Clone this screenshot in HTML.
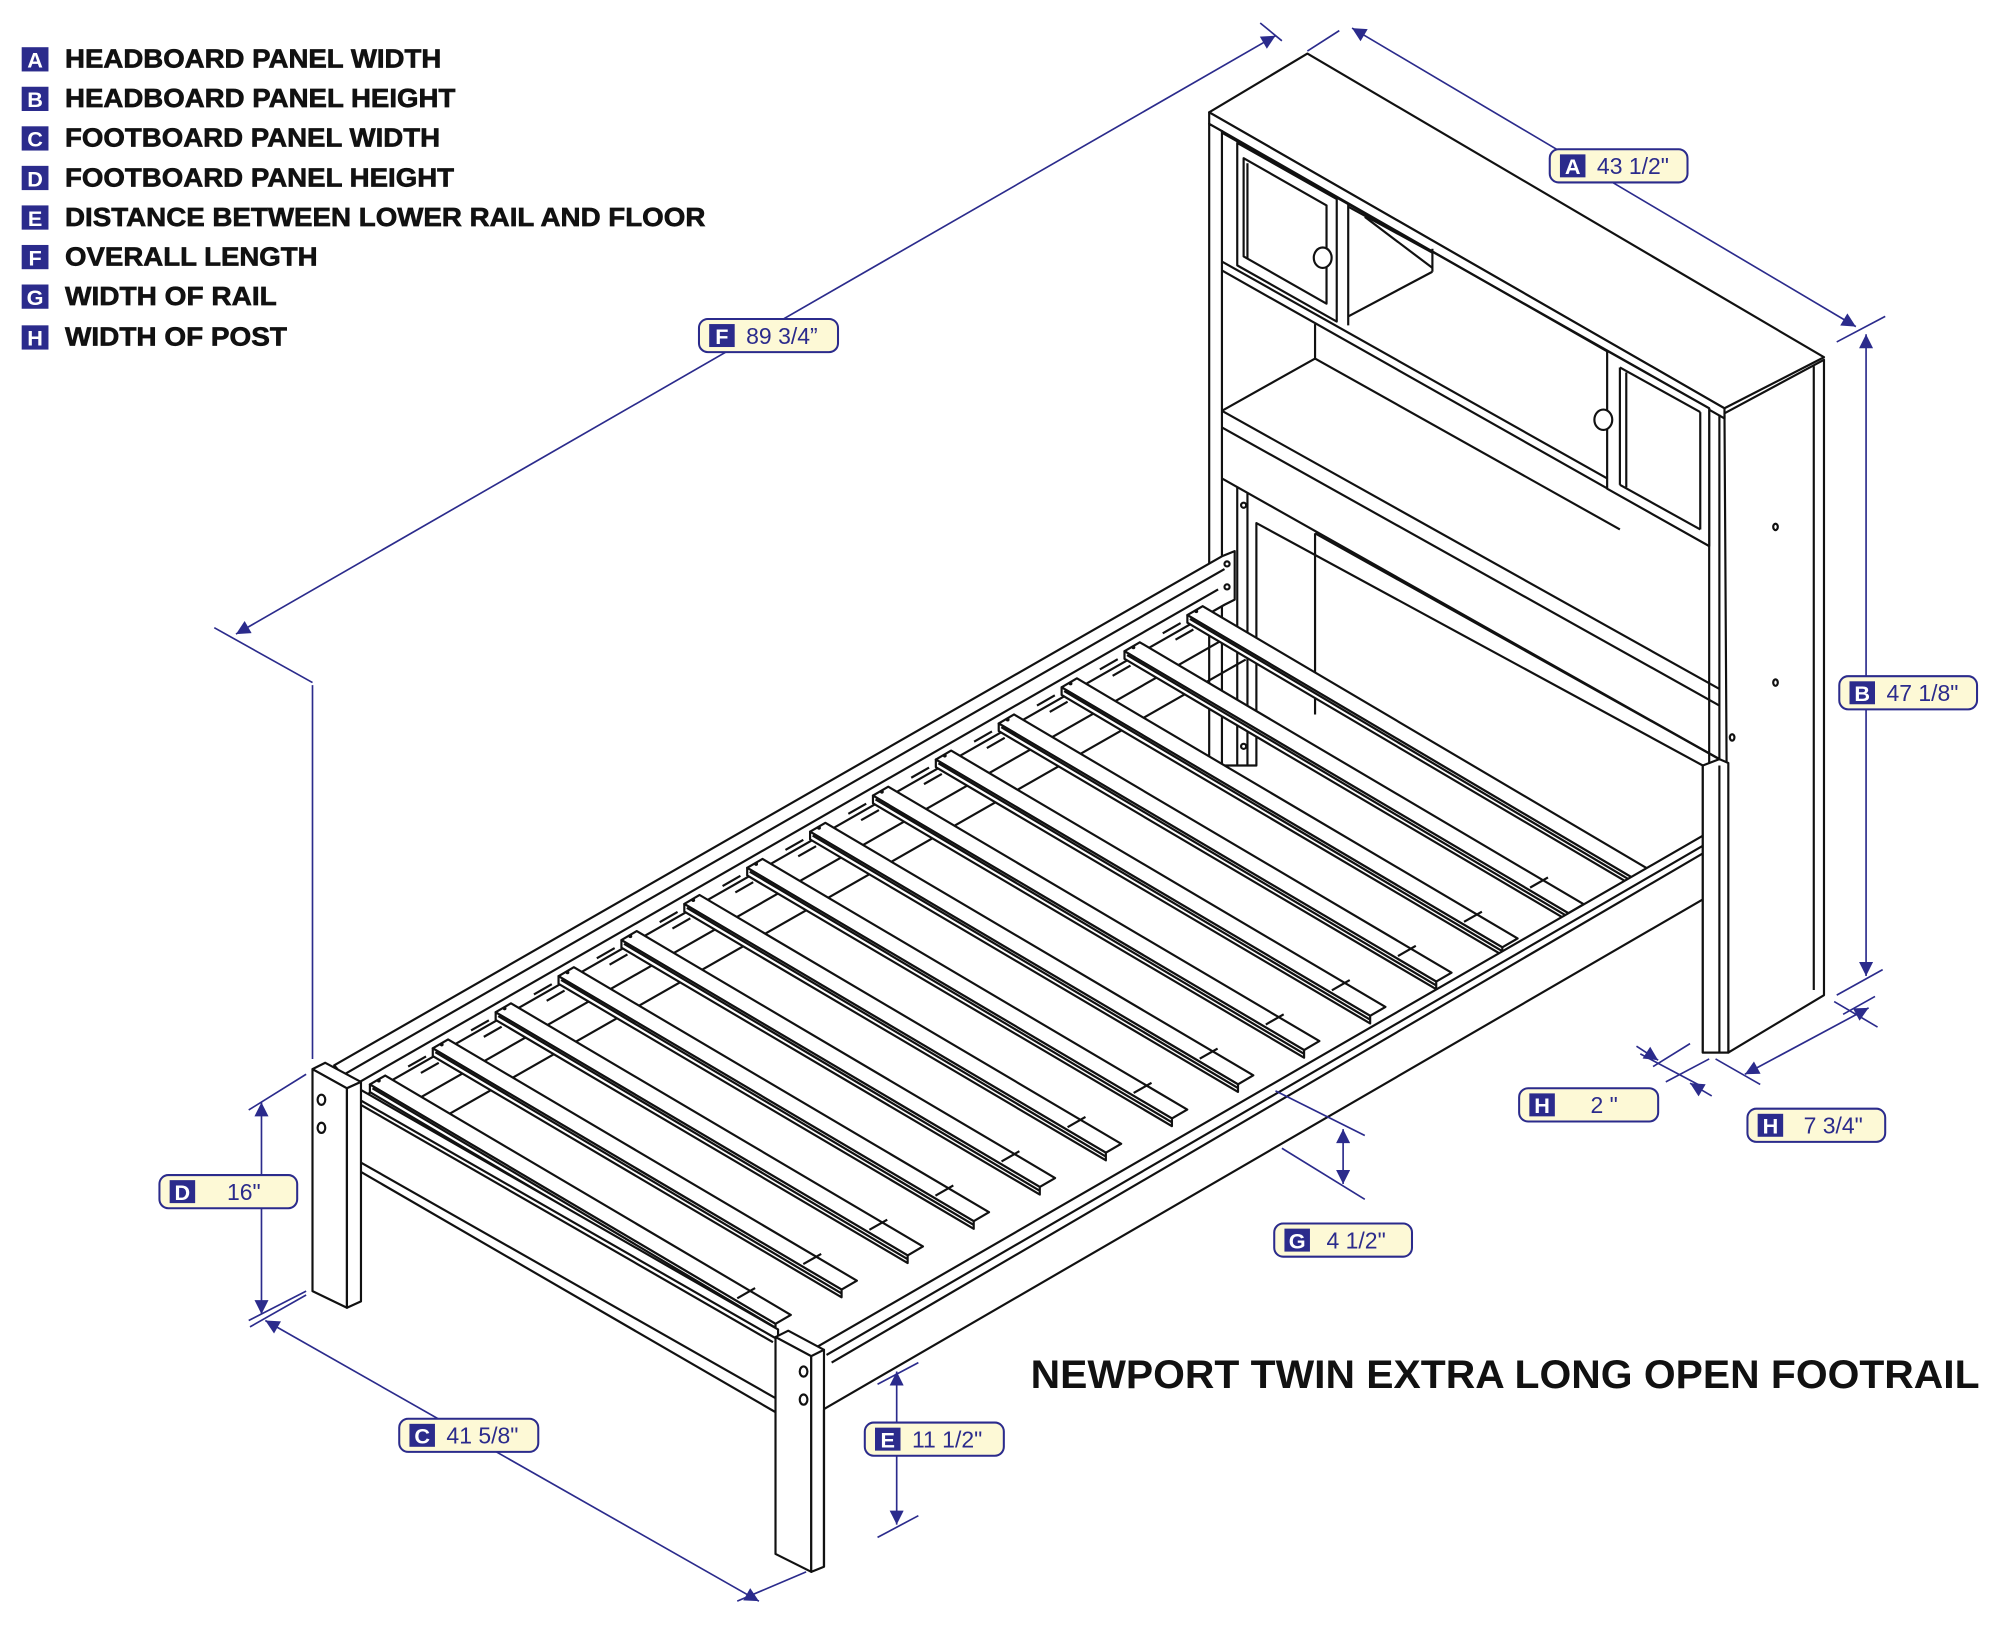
<!DOCTYPE html>
<html><head><meta charset="utf-8"><style>
html,body{margin:0;padding:0;background:#fff;}
svg{display:block;}
.k{fill:none;stroke:#111;stroke-width:1.7;stroke-linejoin:round}
.w{fill:#fff;stroke:#111;stroke-width:1.7;stroke-linejoin:round}
.b{fill:none;stroke:#2b2b8c;stroke-width:1.3}
.lg{font-family:"Liberation Sans",Arial,sans-serif;font-weight:bold;font-size:20px;fill:#111;stroke:#111;stroke-width:0.5}
.lt{font-family:"Liberation Sans",Arial,sans-serif;font-weight:bold;font-size:17px;fill:#fff}
.vt{font-family:"Liberation Sans",Arial,sans-serif;font-size:18px;fill:#2b2b8c}
</style></head><body>
<svg id="s" width="2000" height="1642" viewBox="0 0 1568 1287" preserveAspectRatio="none" xmlns="http://www.w3.org/2000/svg">
<defs>
<marker id="ar" viewBox="0 0 10 10" refX="10" refY="5" markerWidth="16" markerHeight="11" markerUnits="userSpaceOnUse" orient="auto-start-reverse"><path d="M0,0 L10,5 L0,10 z" fill="#2b2b8c"/></marker>
</defs>
<rect width="1568" height="1287" fill="#fff"/>

<g>
<rect x="17" y="37" width="21" height="19" fill="#2b2b8c"/><text x="27.5" y="53" text-anchor="middle" class="lt">A</text><text x="51" y="53" class="lg" textLength="295" lengthAdjust="spacingAndGlyphs">HEADBOARD PANEL WIDTH</text>
<rect x="17" y="68" width="21" height="19" fill="#2b2b8c"/><text x="27.5" y="84" text-anchor="middle" class="lt">B</text><text x="51" y="84" class="lg" textLength="306" lengthAdjust="spacingAndGlyphs">HEADBOARD PANEL HEIGHT</text>
<rect x="17" y="99" width="21" height="19" fill="#2b2b8c"/><text x="27.5" y="115" text-anchor="middle" class="lt">C</text><text x="51" y="115" class="lg" textLength="294" lengthAdjust="spacingAndGlyphs">FOOTBOARD PANEL WIDTH</text>
<rect x="17" y="130" width="21" height="19" fill="#2b2b8c"/><text x="27.5" y="146" text-anchor="middle" class="lt">D</text><text x="51" y="146" class="lg" textLength="305" lengthAdjust="spacingAndGlyphs">FOOTBOARD PANEL HEIGHT</text>
<rect x="17" y="161" width="21" height="19" fill="#2b2b8c"/><text x="27.5" y="177" text-anchor="middle" class="lt">E</text><text x="51" y="177" class="lg" textLength="502" lengthAdjust="spacingAndGlyphs">DISTANCE BETWEEN LOWER RAIL AND FLOOR</text>
<rect x="17" y="192" width="21" height="19" fill="#2b2b8c"/><text x="27.5" y="208" text-anchor="middle" class="lt">F</text><text x="51" y="208" class="lg" textLength="198" lengthAdjust="spacingAndGlyphs">OVERALL LENGTH</text>
<rect x="17" y="223" width="21" height="19" fill="#2b2b8c"/><text x="27.5" y="239" text-anchor="middle" class="lt">G</text><text x="51" y="239" class="lg" textLength="166" lengthAdjust="spacingAndGlyphs">WIDTH OF RAIL</text>
<rect x="17" y="255" width="21" height="19" fill="#2b2b8c"/><text x="27.5" y="271" text-anchor="middle" class="lt">H</text><text x="51" y="271" class="lg" textLength="174" lengthAdjust="spacingAndGlyphs">WIDTH OF POST</text>
</g>

<text x="808" y="1088" font-family="'Liberation Sans',Arial,sans-serif" font-weight="bold" font-size="31" fill="#111" textLength="744" lengthAdjust="spacingAndGlyphs">NEWPORT TWIN EXTRA LONG OPEN FOOTRAIL</text>

<g id="bed"></g>
<g id="dims"></g>
</svg>
<script>
var NS="http://www.w3.org/2000/svg";
function el(p,t,a,txt){var e=document.createElementNS(NS,t);for(var k in a)e.setAttribute(k,a[k]);if(txt)e.textContent=txt;p.appendChild(e);return e;}
var bed=document.getElementById('bed'),dims=document.getElementById('dims');
function L(x1,y1,x2,y2,c){el(bed,'line',{x1:x1,y1:y1,x2:x2,y2:y2,'class':c||'k'});}
function P(pts,c){el(bed,'polygon',{points:pts,'class':c||'w'});}

P("1350,325 1430,282 1430,780 1355,825");
L(1422,287,1422,776);
P("948,97 1352,325 1355,825 1335,825 1335,600 985,410 985,600 958,600 948,600");
P("948,88 1025,42 1430,280 1352,320");
P("948,88 1352,320 1352,328 948,97");
L(958,102,958,600);L(1340,320,1340,825);L(1348,325,1348,825);
L(958,104,1340,320);
P("970,112 1048,156 1048,252 970,208");
P("975,124 1040,161 1040,238 975,201");
L(978,128,978,203);
L(1057,160,1057,255);
L(1057,248,1123,213);L(1123,195,1123,213);L(1057,162,1123,198);
L(1070,170,1123,210);
L(958,205,1340,420);L(958,212,1340,428);
P("1260,275 1340,320 1340,428 1260,383");
L(1270,288,1333,323);L(1270,288,1270,380);L(1270,380,1333,415);L(1333,323,1333,415);
L(1275,292,1275,382);
el(bed,'ellipse',{cx:1037,cy:202,rx:7,ry:8,'class':'w'});
el(bed,'ellipse',{cx:1257,cy:329,rx:7,ry:8,'class':'w'});
L(1031,254,1031,281);L(958,322,1031,281);L(1031,281,1270,415);
L(958,322,1348,540);L(958,335,1348,553);
L(958,375,1348,595);L(1031,418,1031,560);
L(1031,418,1348,595);
L(970,382,970,600);L(978,386,978,600);
el(bed,'circle',{cx:975,cy:396,r:2,'class':'k'});el(bed,'circle',{cx:975,cy:585,r:2,'class':'k'});
el(bed,'ellipse',{cx:1392,cy:413,rx:1.8,ry:2.5,'class':'k'});
el(bed,'ellipse',{cx:1392,cy:535,rx:1.8,ry:2.5,'class':'k'});
el(bed,'ellipse',{cx:1358,cy:578,rx:1.8,ry:2.5,'class':'k'});

P("262,835 958,436 968,432 968,470 960,474 284,860");
L(270,842,960,446);L(275,852,955,462);
el(bed,'circle',{cx:962,cy:442,r:2,'class':'k'});el(bed,'circle',{cx:962,cy:460,r:2,'class':'k'});

for(var j=0;j<2;j++){var o=j*22;L(330+o*0.3,860+o,970+o*0.3,495+o);}

for(var i=13;i>=0;i--){
 var sx=290+49.3*i, sy=850-28.3*i;
 var len=318+2.5*i;
 var ex=sx+len, ey=sy+len*0.59;
 P(sx+","+sy+" "+(sx+12)+","+(sy-7)+" "+(ex+12)+","+(ey-7)+" "+ex+","+ey);
 P(sx+","+sy+" "+ex+","+ey+" "+ex+","+(ey+6)+" "+sx+","+(sy+6));
 L(sx+2,sy+3,ex,ey+3);
 if(i<13){var cx=sx+30, cy=sy-14;L(cx,cy,cx+14,cy-8);L(cx+10,cy+5,cx+24,cy-3);
  var dx=ex-30, dy=ey-20;L(dx,dy,dx+14,dy-8);}
 el(bed,'circle',{cx:sx+7,cy:sy-3,r:1.5,fill:'#111'});
}

P("640,1056 1335,655 1345,650 1345,700 1335,705 645,1105");
L(648,1062,1340,660);L(652,1068,1340,666);
L(1335,655,1335,705);

P("1335,600 1348,595 1355,598 1355,825 1335,825");
L(1348,600,1348,825);

P("272,848 610,1042 610,1097 272,905");
L(275,858,610,1050);L(276,862,606,1052);
L(282,905,282,1020);
L(282,918,610,1108);

P("245,838 255,833 283,848 272,853");
P("245,838 272,853 272,1025 245,1012");
P("272,853 283,848 283,1020 272,1025");
el(bed,'ellipse',{cx:252,cy:862,rx:3,ry:4,'class':'k'});el(bed,'ellipse',{cx:252,cy:884,rx:3,ry:4,'class':'k'});

P("608,1048 618,1043 646,1058 636,1063");
P("608,1048 636,1063 636,1232 608,1218");
P("636,1063 646,1058 646,1228 636,1232");
el(bed,'ellipse',{cx:630,cy:1075,rx:3,ry:4,'class':'k'});el(bed,'ellipse',{cx:630,cy:1097,rx:3,ry:4,'class':'k'});
L(646,1105,646,1228);

function D(x1,y1,x2,y2,arr){var a={x1:x1,y1:y1,x2:x2,y2:y2,'class':'b'};if(arr){a['marker-start']='url(#ar)';a['marker-end']='url(#ar)';}el(dims,'line',a);}
D(185,497,1000,28,1);D(168,492,245,535);D(988,18,1005,32);D(245,537,245,830);
D(1060,22,1455,256,1);D(1050,24,1025,40);D(1440,268,1478,248);
D(1463,262,1463,765,1);D(1440,780,1476,760);
D(1286,826,1335,852);D(1296,836,1325,818);D(1306,848,1340,830);
el(dims,'line',{x1:1283,y1:820,x2:1300,y2:831,'class':'b','marker-end':'url(#ar)'});
el(dims,'line',{x1:1342,y1:859,x2:1325,y2:849,'class':'b','marker-end':'url(#ar)'});
D(1368,842,1465,790,1);D(1345,830,1380,850);D(1438,785,1472,805);D(1445,795,1470,781);
D(1053,885,1053,928,1);D(1000,855,1070,890);D(1005,900,1070,940);
D(205,864,205,1030,1);D(195,870,240,842);D(195,1035,240,1012);
D(208,1035,595,1255,1);D(196,1040,240,1015);D(578,1255,632,1232);
D(703,1075,703,1195,1);D(688,1085,720,1068);D(688,1205,720,1188);

function LB(x,y,w,letter,val,tx){
 el(dims,'rect',{x:x,y:y,width:w,height:26,rx:7,ry:7,fill:'#fdf9d6',stroke:'#2b2b8c','stroke-width':1.6});
 el(dims,'rect',{x:x+8,y:y+4,width:20,height:18,fill:'#2b2b8c'});
 el(dims,'text',{x:x+18,y:y+19.5,'text-anchor':'middle','class':'lt'},letter);
 el(dims,'text',{x:tx||x+37,y:y+19.5,'class':'vt'},val);
}
LB(1215,117,108,'A','43 1/2"');
LB(1442,530,108,'B','47 1/8"');
LB(548,250,109,'F','89 3/4\u201d');
LB(1191,853,109,'H','2 "',1247);
LB(1370,869,108,'H','7 3/4"',1414);
LB(999,959,108,'G','4 1/2"',1040);
LB(125,921,108,'D','16"',178);
LB(313,1112,109,'C','41 5/8"');
LB(678,1115,109,'E','11 1/2"');
</script>
</body></html>
